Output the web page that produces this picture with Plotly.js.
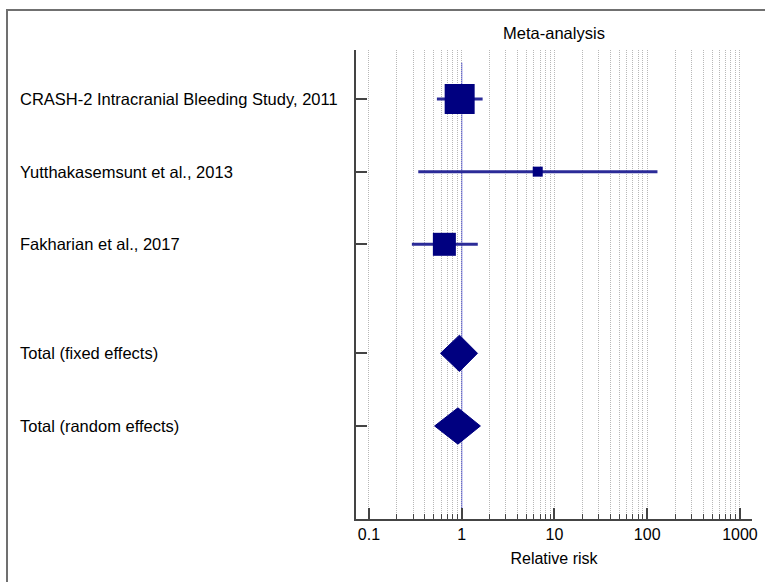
<!DOCTYPE html>
<html>
<head>
<meta charset="utf-8">
<script src="https://cdn.plot.ly/plotly-3.0.1.min.js"></script>
<style>
html,body{margin:0;padding:0;background:#fff;}
#wrap{position:relative;width:765px;height:582px;overflow:hidden;}
#chart{position:absolute;left:0;top:0;width:765px;height:582px;}
#frame{position:absolute;left:6px;top:9px;width:780px;height:600px;border-left:2px solid #707070;border-top:2px solid #707070;pointer-events:none;}
</style>
</head>
<body>
<div id="wrap"><div id="chart"></div><div id="frame"></div></div>
<script>
// Studies
var studies = ["CRASH-2 Intracranial Bleeding Study, 2011", "Yutthakasemsunt et al., 2013", "Fakharian et al., 2017"];
var studyRR = [0.95, 6.6, 0.65];
var studyLo = [0.54, 0.34, 0.29];
var studyHi = [1.68, 129, 1.49];
var studyWeight = [30, 10, 23]; // relative marker size (weight)
var studyRows = [0, 1, 2];

// Pooled estimates
var totals = ["Total (fixed effects)", "Total (random effects)"];
var totalRR = [0.945, 0.91];
var totalLo = [0.59, 0.51];
var totalHi = [1.48, 1.59];
var totalRows = [3.5, 4.5];

var xTickVals = [0.1, 1, 10, 100, 1000];
var xTickText = ["0.1", "1", "10", "100", "1000"];

var navy = "#000080";
var ciColor = "#2b2b98";
var FONT = "Liberation Sans, Arial, sans-serif";

var traces = [];
// confidence intervals (drawn first)
traces.push({
  type: "scatter", mode: "markers",
  x: studyRR, y: studyRows,
  marker: {size: 1, color: "rgba(0,0,0,0)", opacity: 0},
  error_x: {type: "data", symmetric: false,
    array: studyHi.map(function(h, i){ return h - studyRR[i]; }),
    arrayminus: studyLo.map(function(l, i){ return studyRR[i] - l; }),
    color: ciColor, thickness: 3, width: 0},
  hoverinfo: "skip", showlegend: false
});
// point estimates
traces.push({
  type: "scatter", mode: "markers",
  x: studyRR, y: studyRows,
  marker: {symbol: "square", size: studyWeight, color: navy, opacity: 1, line: {width: 0}},
  hoverinfo: "skip", showlegend: false
});

var dh = 0.25;
for (var i = 0; i < totals.length; i++) {
  var r = totalRows[i];
  traces.push({
    type: "scatter", mode: "lines",
    x: [totalLo[i], totalRR[i], totalHi[i], totalRR[i], totalLo[i]],
    y: [r, r - dh, r, r + dh, r],
    fill: "toself", fillcolor: navy,
    line: {color: navy, width: 1},
    hoverinfo: "skip", showlegend: false
  });
}

var minorVals = [];
[-1, 0, 1, 2, 3].forEach(function(d){
  for (var k = 2; k <= 9; k++) minorVals.push(k * Math.pow(10, d));
});

var allLabels = studies.concat(totals);
var allRows = studyRows.concat(totalRows);
var annotations = allLabels.map(function(t, i){
  return {text: t, xref: "paper", x: -0.854, xanchor: "left",
    yref: "y", y: allRows[i], yanchor: "middle", showarrow: false,
    font: {family: FONT, size: 16.5, color: "#000"}};
});

var layout = {
  width: 765, height: 582,
  margin: {l: 356, r: 13, t: 50, b: 63},
  paper_bgcolor: "#fff", plot_bgcolor: "#fff",
  font: {family: FONT, size: 16, color: "#000"},
  title: {text: "Meta-analysis", x: 0.5, xref: "paper", xanchor: "center",
    y: 1 - 33/582, yref: "container", yanchor: "middle",
    font: {family: FONT, size: 16.5, color: "#000"}},
  xaxis: {
    type: "log", range: [-1.14, 3.13],
    tickvals: xTickVals, ticktext: xTickText,
    ticks: "inside", ticklen: 11, tickwidth: 2, tickcolor: "#444",
    ticklabelstandoff: 0,
    showgrid: true, gridcolor: "#b8b8b8", griddash: "1px,1px", gridwidth: 1,
    minor: {tickvals: minorVals, ticks: "inside", ticklen: 5, tickwidth: 1, tickcolor: "#444",
      showgrid: true, gridcolor: "#b8b8b8", griddash: "1px,1px", gridwidth: 1},
    showline: true, linecolor: "#444", linewidth: 2, mirror: false,
    zeroline: false,
    tickfont: {family: FONT, size: 16, color: "#000"},
    title: {text: "Relative risk", standoff: 11, font: {family: FONT, size: 16, color: "#000"}}
  },
  yaxis: {
    range: [5.78, -0.674],
    tickvals: allRows, ticks: "inside", ticklen: 11, tickwidth: 2, tickcolor: "#444",
    showticklabels: false, showgrid: false, zeroline: false,
    showline: true, linecolor: "#444", linewidth: 2
  },
  shapes: [{type: "line", xref: "x", x0: 1, x1: 1, yref: "y", y0: -0.5, y1: 5.78,
    line: {color: "#3a3ad0", width: 1}, layer: "below"}],
  annotations: annotations
};

Plotly.newPlot("chart", traces, layout, {displayModeBar: false, staticPlot: true});
</script>
</body>
</html>
